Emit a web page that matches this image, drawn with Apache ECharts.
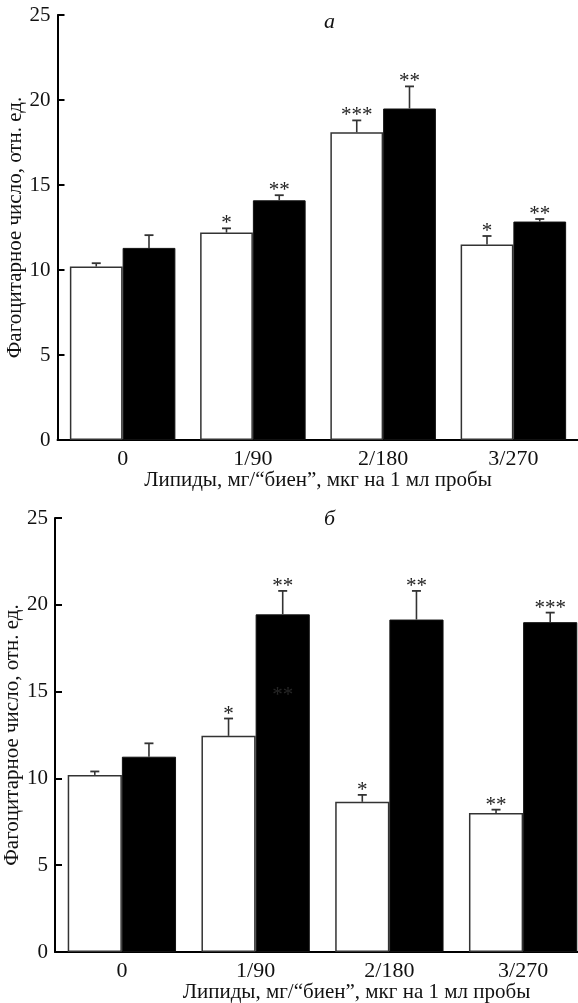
<!DOCTYPE html>
<html><head><meta charset="utf-8">
<script src="https://cdn.jsdelivr.net/npm/echarts@6/dist/echarts.min.js"></script>
<style>html,body{margin:0;padding:0;background:#fff}#c{width:578px;height:1003px}</style>
</head><body><div id="c"></div>
<script>
const categories = ['0', '1/90', '2/180', '3/270'];
const yTicks = [0, 5, 10, 15, 20, 25];
// Panel а
const aWhite = [10.2, 12.2, 18.1, 11.5];
const aWhiteErr = [0.2, 0.25, 0.7, 0.5];
const aWhiteStars = ['', '*', '***', '*'];
const aBlack = [11.3, 14.1, 19.5, 12.85];
const aBlackErr = [0.75, 0.3, 1.3, 0.15];
const aBlackStars = ['', '**', '**', '**'];
// Panel б
const bWhite = [10.2, 12.45, 8.65, 8.0];
const bWhiteErr = [0.2, 1.0, 0.4, 0.2];
const bWhiteStars = ['', '*', '*', '**'];
const bBlack = [11.25, 19.45, 19.15, 19.0];
const bBlackErr = [0.77, 1.35, 1.65, 0.55];
const bBlackStars = ['', '**', '**', '***'];
const bBlackGhostStars = ['', '**', '', ''];
const bBlackGhostAt = [null, 15, null, null];

const yName = 'Фагоцитарное число, отн. ед.';
const xName = 'Липиды, мг/“биен”, мкг на 1 мл пробы';
const FONT = 'Liberation Serif';
const GAP = 0.19;

function errSeries(grid, vals, errs, stars, side, ghostStars, ghostAt) {
  return {
    type: 'custom', xAxisIndex: grid, yAxisIndex: grid, z: 5,
    data: vals.map((v, i) => [i, v, errs[i]]),
    renderItem: function (params, api) {
      const i = params.dataIndex;
      const ci = api.value(0), v = api.value(1), e = api.value(2);
      const base = api.coord([ci, v]);
      const top = api.coord([ci, v + e]);
      const band = api.size([1, 0])[0];
      const bw = band * (1 - GAP) / 2;
      const x = base[0] + side * bw / 2;
      const children = [
        { type: 'line', shape: { x1: x, y1: base[1], x2: x, y2: top[1] }, style: { stroke: '#333', lineWidth: 1.6 } },
        { type: 'line', shape: { x1: x - 4.5, y1: top[1], x2: x + 4.5, y2: top[1] }, style: { stroke: '#333', lineWidth: 1.8 } }
      ];
      if (stars[i]) {
        children.push({ type: 'text', x: x, y: top[1] + 6, style: { text: stars[i], font: '21px "' + FONT + '"', fill: '#222', align: 'center', verticalAlign: 'bottom' } });
      }
      if (ghostStars && ghostStars[i]) {
        const g = api.coord([ci, ghostAt[i]]);
        children.push({ type: 'text', x: x, y: g[1] + 4, style: { text: ghostStars[i], font: '21px "' + FONT + '"', fill: '#262626', align: 'center', verticalAlign: 'middle' } });
      }
      return { type: 'group', children: children };
    }
  };
}

function xAxis(grid, namePad) {
  return {
    type: 'category', gridIndex: grid, data: categories,
    axisLine: { lineStyle: { color: '#000', width: 2 } },
    axisTick: { show: false },
    axisLabel: { fontFamily: FONT, fontSize: 22, color: '#111', margin: 8 },
    name: xName, nameLocation: 'middle', nameGap: 30, nameMoveOverlap: false,
    nameTextStyle: { fontFamily: FONT, fontSize: 21, color: '#111', padding: namePad }
  };
}
function yAxis(grid) {
  return {
    type: 'value', gridIndex: grid, min: 0, max: 25, interval: 5,
    axisLine: { show: true, lineStyle: { color: '#000', width: 2 } },
    axisTick: { show: true, inside: true, length: 7, lineStyle: { color: '#000', width: 2 } },
    axisLabel: { fontFamily: FONT, fontSize: 21, color: '#111', margin: 7,
      formatter: v => yTicks.includes(v) ? String(v) : '' },
    splitLine: { show: false },
    name: yName, nameLocation: 'middle', nameGap: 32, nameRotate: 90, nameMoveOverlap: false,
    nameTextStyle: { fontFamily: FONT, fontSize: 21, color: '#111' }
  };
}
const whiteStyle = { color: '#fff', borderColor: '#333', borderWidth: 1.5 };
const blackStyle = { color: '#000', borderColor: '#111', borderWidth: 1 };

const chart = echarts.init(document.getElementById('c'), null, { renderer: 'canvas' });
chart.setOption({
  animation: false,
  backgroundColor: '#fff',
  title: [
    { text: 'а', left: 319, top: 6, textStyle: { fontFamily: FONT, fontStyle: 'italic', fontWeight: 'normal', fontSize: 22, color: '#111' } },
    { text: 'б', left: 319, top: 503, textStyle: { fontFamily: FONT, fontStyle: 'italic', fontWeight: 'normal', fontSize: 22, color: '#111' } }
  ],
  grid: [
    { left: 57.5, top: 15, width: 521, height: 425, containLabel: false, outerBoundsMode: 'none' },
    { left: 55, top: 518, width: 535, height: 434, containLabel: false, outerBoundsMode: 'none' }
  ],
  xAxis: [xAxis(0, [0, 0, 0, 0]), xAxis(1, [0, 0, 0, 68])],
  yAxis: [yAxis(0), yAxis(1)],
  series: [
    { type: 'bar', xAxisIndex: 0, yAxisIndex: 0, data: aWhite, itemStyle: whiteStyle, barGap: '0%', barCategoryGap: (GAP * 100) + '%' },
    { type: 'bar', xAxisIndex: 0, yAxisIndex: 0, data: aBlack, itemStyle: blackStyle, barGap: '0%', barCategoryGap: (GAP * 100) + '%' },
    { type: 'bar', xAxisIndex: 1, yAxisIndex: 1, data: bWhite, itemStyle: whiteStyle, barGap: '0%', barCategoryGap: (GAP * 100) + '%' },
    { type: 'bar', xAxisIndex: 1, yAxisIndex: 1, data: bBlack, itemStyle: blackStyle, barGap: '0%', barCategoryGap: (GAP * 100) + '%' },
    errSeries(0, aWhite, aWhiteErr, aWhiteStars, -1),
    errSeries(0, aBlack, aBlackErr, aBlackStars, 1),
    errSeries(1, bWhite, bWhiteErr, bWhiteStars, -1),
    errSeries(1, bBlack, bBlackErr, bBlackStars, 1, bBlackGhostStars, bBlackGhostAt)
  ]
});
</script></body></html>
